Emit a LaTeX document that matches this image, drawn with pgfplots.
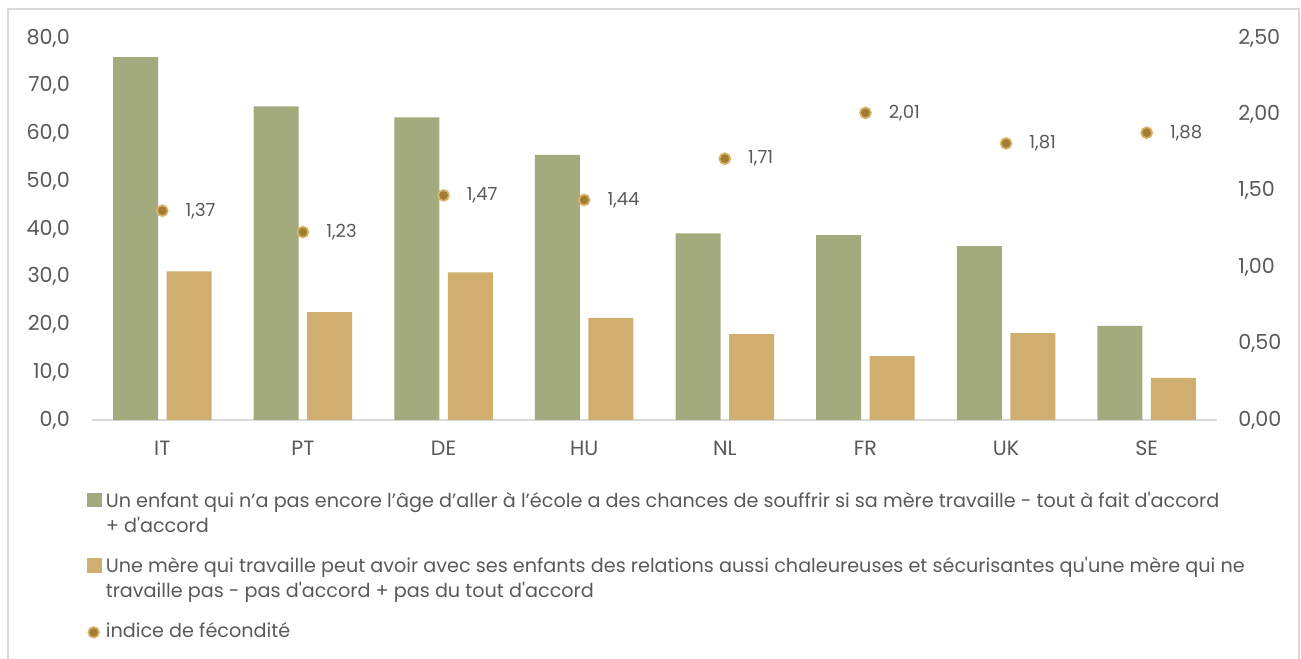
\documentclass[border=0pt]{standalone}
\usepackage{pgfplots}
\pgfplotsset{compat=1.18}
\usepackage{fontspec}
\setmainfont{Poppins}[Ligatures=TeXOff]
\definecolor{cgreen}{HTML}{A3AA7E}
\definecolor{ctan}{HTML}{D0AE6F}
\definecolor{cdot}{HTML}{A47B32}
\definecolor{cring}{HTML}{D8B46A}
\definecolor{ctext}{HTML}{595959}
\definecolor{caxis}{HTML}{D9D9D9}
\begin{document}
\begin{tikzpicture}
\useasboundingbox (0pt,0pt) rectangle (975.75pt,494.25pt);
\draw[color=caxis, line width=0.9pt] (6pt,-10pt) -- (6pt,487.5pt) -- (974.25pt,487.5pt) -- (974.25pt,-10pt);
\begin{axis}[
  at={(69pt,179.25pt)}, anchor=south west, scale only axis,
  width=843.75pt, height=286.5pt,
  xmin=-0.5, xmax=7.5, ymin=0, ymax=80,
  xtick={0,...,7}, xticklabels={IT,PT,DE,HU,NL,FR,UK,SE},
  ytick={0,10,...,80},
  axis x line*=bottom, axis y line*=left,
  x axis line style={draw=caxis, line width=1pt, -},
  y axis line style={draw=none},
  major tick length=0pt,
  ticklabel style={font=\fontsize{15.5}{18}\selectfont, text=ctext, inner sep=0pt},
  yticklabel style={xshift=-16.5pt, /pgf/number format/fixed, /pgf/number format/fixed zerofill, /pgf/number format/precision=1, /pgf/number format/use comma, /pgf/number format/assume math mode=true},
  xticklabel style={yshift=-15.75pt},
  ybar, bar width=0.32,
]
\addplot[fill=cgreen, draw=none, bar shift=-0.19] coordinates {(0,76.0) (1,65.7) (2,63.4) (3,55.5) (4,39.1) (5,38.7) (6,36.4) (7,19.7)};
\addplot[fill=ctan, draw=none, bar shift=0.19] coordinates {(0,31.1) (1,22.6) (2,30.9) (3,21.4) (4,18.0) (5,13.4) (6,18.2) (7,8.8)};
\end{axis}
\begin{axis}[
  at={(69pt,179.25pt)}, anchor=south west, scale only axis,
  width=843.75pt, height=286.5pt,
  xmin=-0.5, xmax=7.5, ymin=0, ymax=2.5,
  axis y line*=right, axis x line=none,
  y axis line style={draw=none},
  major tick length=0pt,
  ytick={0,0.5,...,2.5},
  ticklabel style={font=\fontsize{15.5}{18}\selectfont, text=ctext, inner sep=0pt},
  yticklabel style={xshift=15.75pt, /pgf/number format/fixed, /pgf/number format/fixed zerofill, /pgf/number format/precision=2, /pgf/number format/use comma, /pgf/number format/assume math mode=true},
  legend style={at={(0,0)}, anchor=north west, xshift=-3.75pt, yshift=-54.25pt,
    draw=none, fill=none, font=\fontsize{14.4}{19}\selectfont, text=ctext,
    row sep=15.5pt, column sep=3.5pt, inner sep=0pt, nodes={inner sep=0pt}},
  legend cell align=left,
]
\addlegendimage{legend image code/.code={\fill[cgreen] (0pt,0.5pt) rectangle (10pt,10.5pt);}}
\addlegendentry[anchor=base west, text height=11pt, text depth=22.5pt]{\parbox[t]{930pt}{Un enfant qui n’a pas encore l’âge d’aller à l’école a des chances de souffrir si sa mère travaille - tout à fait d'accord\\+ d'accord}}
\addlegendimage{legend image code/.code={\fill[ctan] (0pt,0.5pt) rectangle (10pt,10.5pt);}}
\addlegendentry[anchor=base west, text height=11pt, text depth=22.5pt]{\parbox[t]{930pt}{Une mère qui travaille peut avoir avec ses enfants des relations aussi chaleureuses et sécurisantes qu'une mère qui ne\\travaille pas - pas d'accord + pas du tout d'accord}}
\addplot[only marks, mark=*, mark size=4.1pt,
  mark options={fill=cdot, draw=cring, line width=1.3pt},
  point meta=y,
  nodes near coords={\pgfmathprintnumber[fixed,fixed zerofill,precision=2,use comma,assume math mode=true]{\pgfplotspointmeta}},
  nodes near coords style={anchor=west, xshift=16.9pt, inner sep=0pt, font=\fontsize{13.5}{15}\selectfont, text=ctext},
  legend image code/.code={\draw[fill=cdot, draw=cring, line width=1.3pt] (4.6pt,4.2pt) circle (4pt);}]
  coordinates {(0,1.37) (1,1.23) (2,1.47) (3,1.44) (4,1.71) (5,2.01) (6,1.81) (7,1.88)};
\addlegendentry[anchor=base west, text height=11pt, text depth=3.5pt]{indice de fécondité}
\end{axis}
\end{tikzpicture}
\end{document}
